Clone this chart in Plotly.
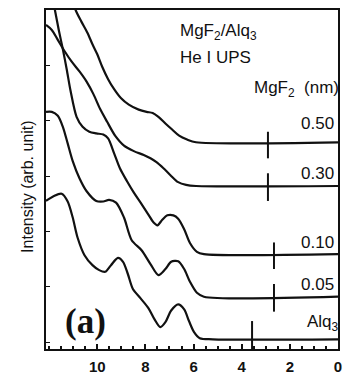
import plotly.graph_objects as go

# ---- data (binding energy in eV, intensity in arb. units, offset per curve) ----
alq3_x = [12.13, 11.80, 11.48, 11.23, 11.02, 10.82, 10.53, 10.20, 9.92, 9.67, 9.43, 9.14, 8.93, 8.73,
          8.52, 8.20, 7.87, 7.62, 7.38, 7.17, 6.93, 6.64, 6.39, 6.19, 5.98, 5.74, 5.20, 0.0]
alq3_y = [2.55, 2.64, 2.68, 2.54, 2.25, 1.89, 1.57, 1.39, 1.30, 1.27, 1.39, 1.52, 1.45, 1.23,
          0.96, 0.79, 0.61, 0.41, 0.27, 0.36, 0.57, 0.68, 0.59, 0.38, 0.18, 0.07, 0.05, 0.05]

mg005_x = [12.13, 11.89, 11.64, 11.43, 11.23, 11.02, 10.74, 10.45, 10.04, 9.75, 9.51, 9.22, 8.89,
           8.57, 8.16, 7.79, 7.46, 7.17, 6.93, 6.64, 6.39, 6.15, 5.86, 5.57, 0.0]
mg005_y = [4.16, 4.16, 4.09, 3.89, 3.59, 3.27, 2.96, 2.73, 2.55, 2.54, 2.57, 2.52, 2.25,
           1.84, 1.66, 1.41, 1.21, 1.32, 1.45, 1.46, 1.32, 1.09, 0.89, 0.82, 0.82]

mg010_x = [11.89, 11.76, 11.60, 11.43, 11.27, 11.11, 10.86, 10.61, 10.33, 10.04, 9.75, 9.55, 9.30,
           9.06, 8.77, 8.48, 8.20, 7.87, 7.66, 7.50, 7.30, 7.09, 6.84, 6.64, 6.39, 6.15, 5.86, 5.57, 0.0]
mg010_y = [6.27, 6.00, 5.64, 5.29, 4.93, 4.54, 4.07, 3.89, 3.80, 3.77, 3.75, 3.68, 3.41,
           3.14, 2.91, 2.70, 2.52, 2.30, 2.16, 2.11, 2.21, 2.29, 2.29, 2.23, 2.04, 1.79, 1.63, 1.59, 1.59]

mg030_x = [12.13, 11.89, 11.64, 11.35, 11.07, 10.74, 10.45, 10.16, 9.88, 9.59, 9.26, 8.89, 8.48,
           8.07, 7.79, 7.54, 7.25, 6.97, 6.64, 6.31, 5.90, 0.0]
mg030_y = [5.73, 5.64, 5.46, 5.25, 5.07, 4.89, 4.71, 4.48, 4.21, 3.98, 3.73, 3.55, 3.45,
           3.38, 3.32, 3.25, 3.14, 3.02, 2.89, 2.84, 2.82, 2.82]

mg050_x = [11.02, 10.90, 10.66, 10.41, 10.20, 10.00, 9.80, 9.55, 9.30, 9.02, 8.69, 8.28, 7.95,
           7.70, 7.46, 7.17, 6.89, 6.60, 6.27, 5.90, 0.0]
mg050_y = [6.18, 6.00, 5.79, 5.59, 5.38, 5.20, 4.98, 4.75, 4.57, 4.41, 4.29, 4.20, 4.16,
           4.14, 4.07, 3.95, 3.84, 3.73, 3.66, 3.61, 3.61]

curve_labels = ["0.50", "0.30", "0.10", "0.05", "Alq<sub>3</sub>"]
label_y = [3.95, 3.05, 1.80, 1.04, 0.34]
onset_ev = [2.91, 2.91, 2.66, 2.66, 3.57]
onset_top = [3.80, 3.05, 1.80, 1.05, 0.38]
onset_bottom = [3.32, 2.55, 1.32, 0.55, -0.125]

x_ticks = [10, 8, 6, 4, 2, 0]
x_ticklabels = ["10", "8", "6", "4", "2", "0"]
y_ticks = [0, 1, 2, 3, 4, 5]

# ---- figure ----
fig = go.Figure()
line = dict(color="#111111", width=2.2, shape="spline", smoothing=0.8)
for xs, ys in [(alq3_x, alq3_y), (mg005_x, mg005_y), (mg010_x, mg010_y),
               (mg030_x, mg030_y), (mg050_x, mg050_y)]:
    fig.add_trace(go.Scatter(x=xs, y=ys, mode="lines", line=line,
                             showlegend=False, hoverinfo="skip"))

for ev, top, bot in zip(onset_ev, onset_top, onset_bottom):
    fig.add_trace(go.Scatter(x=[ev, ev], y=[bot, top], mode="lines",
                             line=dict(color="#111111", width=2),
                             showlegend=False, hoverinfo="skip"))

font = dict(family="Liberation Sans, Arial, sans-serif", size=17, color="#111111")
for i, (lab, ly) in enumerate(zip(curve_labels, label_y)):
    fig.add_annotation(x=0.25 if i < 4 else 0.05, y=ly, text=lab, xshift=4,
                       showarrow=False, xanchor="right", yanchor="middle", font=font)

fig.add_annotation(x=0.0, y=4.57, text="MgF<sub>2</sub>  (nm)", showarrow=False, xshift=3,
                   xanchor="right", yanchor="middle", font=font)
fig.add_annotation(x=6.56, y=5.61, text="MgF<sub>2</sub>/Alq<sub>3</sub>", showarrow=False,
                   xanchor="left", yanchor="middle", xshift=-2, font=font)
fig.add_annotation(x=6.56, y=5.14, text="He I UPS", showarrow=False,
                   xanchor="left", yanchor="middle", xshift=-2, font=font)
fig.add_annotation(x=10.49, y=0.375, text="<b>(a)</b>", showarrow=False,
                   xanchor="center", yanchor="middle",
                   font=dict(family="Liberation Serif, Times New Roman, serif", size=35, color="#111111"))
fig.add_annotation(xref="paper", yref="paper", x=-0.063, y=0.48, text="Intensity (arb. unit)",
                   textangle=-90, showarrow=False, xanchor="center", yanchor="middle",
                   font=dict(family="Liberation Sans, Arial, sans-serif", size=16, color="#111111"))

fig.update_layout(
    width=345, height=378,
    margin=dict(l=46, r=3, t=10, b=25),
    paper_bgcolor="white", plot_bgcolor="white",
    xaxis=dict(range=[12.13, 0], tickvals=x_ticks, ticktext=x_ticklabels,
               ticks="inside", ticklen=5, tickwidth=1.5, tickcolor="#111111",
               ticklabelstandoff=3,
               minor=dict(dtick=0.5, ticks="inside", ticklen=3, tickcolor="#111111"),
               showline=True, linecolor="#111111", linewidth=2, mirror=True,
               showgrid=False, zeroline=False,
               tickfont=dict(family="Liberation Sans, Arial, sans-serif", size=15,
                             color="#111111", weight="bold")),
    yaxis=dict(range=[-0.125, 6.0], tickvals=y_ticks, showticklabels=False,
               ticks="inside", ticklen=4, tickcolor="#111111",
               showline=True, linecolor="#111111", linewidth=2, mirror=True,
               showgrid=False, zeroline=False),
)

fig.write_html("out.html", config={"displayModeBar": False},
               post_script="document.body.style.margin='0';document.body.style.overflow='hidden';")
